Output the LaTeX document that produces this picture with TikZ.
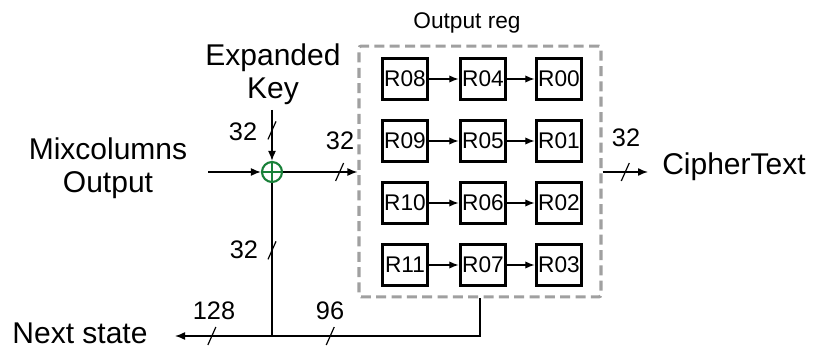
\documentclass[tikz,border=0pt]{standalone}
\usepackage{fontspec}
\setmainfont{Liberation Sans}
\usetikzlibrary{arrows.meta,positioning,calc}
\definecolor{xorgreen}{RGB}{24,128,56}
\definecolor{framegray}{RGB}{160,160,160}
\tikzset{
  regbox/.style={draw, line width=2.6pt, minimum width=34pt, minimum height=30.5pt, inner sep=0pt, font=\fontsize{17}{19}\selectfont},
  regarrow/.style={-{Latex[length=7pt,width=5.5pt]}, line width=0.9pt},
  busline/.style={line width=1.1pt},
  busarrow/.style={-{Latex[length=7.5pt,width=6pt]}, line width=1.1pt},
  outframe/.style={draw=framegray, dash pattern=on 7.5pt off 4pt, line width=2.3pt, rounded corners=1.5pt, minimum width=181.5pt, minimum height=188pt},
  biglabel/.style={font=\fontsize{22.5}{25}\selectfont, align=center, inner sep=1pt},
  buslabel/.style={font=\fontsize{19}{21}\selectfont, inner sep=0pt},
  xorgate/.style={draw=xorgreen, circle, line width=1.6pt, minimum size=15pt, inner sep=0pt,
    path picture={\draw[xorgreen, line width=1.6pt]
      (path picture bounding box.north) -- (path picture bounding box.south)
      (path picture bounding box.west) -- (path picture bounding box.east);}},
  busmark/.pic={\draw[-, line width=0.9pt] (-4,9) -- (4,-9);},
}

\begin{document}
\begin{tikzpicture}[x=0.75pt,y=-0.75pt]
  \useasboundingbox (0,0) rectangle (813,352);

  % output register block
  \node[outframe] (outreg) at (480,171.5) {};
  \node[font=\fontsize{17}{20}\selectfont] (title) at (467,23) {Output reg};

  \node[regbox] (r08) at (405,79) {R08};
  \node[regbox] (r04) at (483,79) {R04};
  \node[regbox] (r00) at (559,79) {R00};
  \node[regbox] (r09) at (405,141) {R09};
  \node[regbox] (r05) at (483,141) {R05};
  \node[regbox] (r01) at (559,141) {R01};
  \node[regbox] (r10) at (405,203) {R10};
  \node[regbox] (r06) at (483,203) {R06};
  \node[regbox] (r02) at (559,203) {R02};
  \node[regbox] (r11) at (405,265) {R11};
  \node[regbox] (r07) at (483,265) {R07};
  \node[regbox] (r03) at (559,265) {R03};

  \draw[regarrow] (r08) -- (r04);
  \draw[regarrow] (r04) -- (r00);
  \draw[regarrow] (r09) -- (r05);
  \draw[regarrow] (r05) -- (r01);
  \draw[regarrow] (r10) -- (r06);
  \draw[regarrow] (r06) -- (r02);
  \draw[regarrow] (r11) -- (r07);
  \draw[regarrow] (r07) -- (r03);

  % inputs and xor
  \node[xorgate] (xor) at (272,172) {};
  \node[biglabel] (mixin) at (108,168) {Mixcolumns\\Output};
  \node[biglabel] (key) at (273,74) {Expanded\\Key};
  \node[biglabel] (cipher) at (734,167) {CipherText};
  \node[biglabel] (next) at (80,333) {Next state};

  \coordinate (mixstart) at (208,172);
  \coordinate (keystart) at (272,110);
  \coordinate (cipherend) at (648,172);
  \coordinate (nextend) at (175,336);
  \coordinate (jn) at (272,336);

  \draw[busarrow] (mixstart) -- (xor.west);
  \draw[busarrow] (keystart) -- (xor.north) pic[pos=0.4]{busmark};
  \draw[busarrow] (xor.east) -- (xor -| outreg.west) pic[pos=0.76]{busmark};
  \draw[busarrow] (xor -| outreg.east) -- (cipherend) pic[pos=0.5]{busmark};

  \draw[busline] (xor.south) -- (jn) pic[pos=0.44]{busmark};
  \draw[busline] (outreg.south) -- (outreg.south |- jn) -- (jn) pic[pos=0.72]{busmark};
  \draw[busarrow] (jn) -- (nextend) pic[pos=0.62]{busmark};

  % bus widths
  \node[buslabel] (kw) at (243,132) {32};
  \node[buslabel] (ow) at (340,141) {32};
  \node[buslabel] (cw) at (626,138) {32};
  \node[buslabel] (fw) at (244,250) {32};
  \node[buslabel] (nw) at (214,311) {128};
  \node[buslabel] (rw) at (330,311) {96};
\end{tikzpicture}
\end{document}
